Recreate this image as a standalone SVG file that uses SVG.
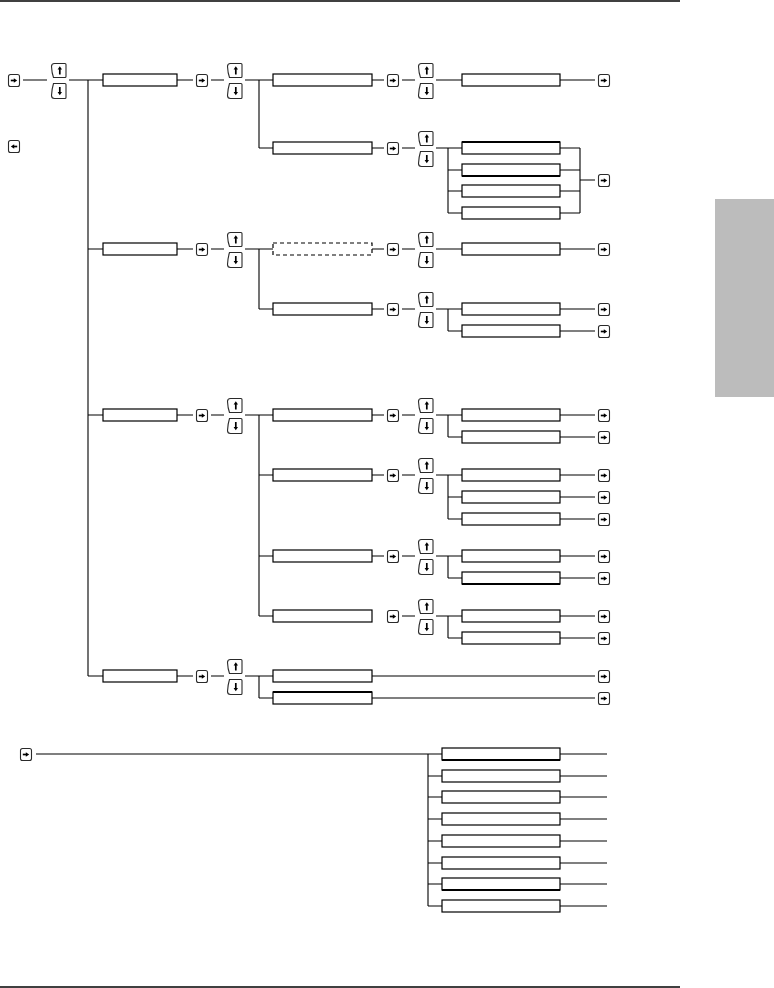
<svg xmlns="http://www.w3.org/2000/svg" xmlns:xlink="http://www.w3.org/1999/xlink" width="774" height="988" viewBox="0 0 774 988">
<style>
.box{fill:#fff;stroke:#000;stroke-width:1.2}
.dash{stroke-dasharray:4 3}
.ln{fill:none;stroke:#000;stroke-width:1.1}
.edge{stroke:#000;stroke-width:2.2}
.kf{fill:#fff;stroke:#2a2a2a;stroke-width:1.1}
.ka{stroke:#000;stroke-width:1.7;fill:none}
.kh{fill:#000}
</style>
<defs>
<g id="k-enter"><rect class="kf" x="0.5" y="0.5" width="11" height="12" rx="2"/><line class="ka" x1="2.8" y1="6.5" x2="6.5" y2="6.5"/><polygon class="kh" points="5.8,4.2 9.2,6.5 5.8,8.8"/></g>
<g id="k-back"><rect class="kf" x="0.5" y="0.5" width="11" height="12" rx="2"/><line class="ka" x1="5.5" y1="6.5" x2="9.2" y2="6.5"/><polygon class="kh" points="6.2,4.2 2.8,6.5 6.2,8.8"/></g>
<g id="k-up"><path class="kf" d="M2.5,14.5H14Q15,14.5 15,13.5V1.5Q15,0.5 14,0.5H3.5Q0.5,0.5 0.5,3.5Q0.8,10 2.5,14.5Z"/><line class="ka" x1="8.8" y1="11.5" x2="8.8" y2="6"/><polygon class="kh" points="6.6,6.6 8.8,3.3 11,6.6"/></g>
<g id="k-down"><path class="kf" d="M2.5,0.5H14Q15,0.5 15,1.5V14.5Q15,15.5 14,15.5H3.5Q0.5,15.5 0.5,12.5Q0.8,6 2.5,0.5Z"/><line class="ka" x1="8.8" y1="4" x2="8.8" y2="9.5"/><polygon class="kh" points="6.6,9 8.8,12.3 11,9"/></g>
</defs>
<rect width="774" height="988" fill="#fff"/>
<line x1="0" y1="1" x2="680" y2="1" stroke="#000" stroke-width="1.6"/>
<line x1="0" y1="987" x2="680" y2="987" stroke="#000" stroke-width="1.6"/>
<rect x="715" y="199" width="59" height="198" fill="#bcbcbc"/>

<g id="connectors" class="ln">
<path d="M23,80H47M69,80H88M88,80V676M88,80H103M88,249H103M88,415H103M88,676H103"/>
<path d="M177,80H193M211,80H224M245,80H259M177,249H193M211,249H224M245,249H259M177,415H193M211,415H224M245,415H259M177,676H193M211,676H224M245,676H259"/>
<path d="M259,80V148M259,249V309M259,415V616M259,676V698"/>
<path d="M259,80H273M259,148H273M259,249H273M259,309H273M259,415H273M259,475H273M259,556H273M259,616H273M259,676H273M259,698H273"/>
<path d="M372,80H384M372,148H384M372,249H384M372,309H384M372,415H384M372,475H384M372,556H384"/>
<path d="M402,80H415M402,148H415M402,249H415M402,309H415M402,415H415M402,475H415M402,556H415M402,616H415"/>
<path d="M436,80H462M436,249H462M436,148H448M436,309H448M436,415H448M436,475H448M436,556H448M436,616H448"/>
<path d="M448,148V213M448,309V331M448,415V437M448,475V519M448,556V578M448,616V638"/>
<path d="M448,148H462M448,170H462M448,191H462M448,213H462M448,309H462M448,331H462M448,415H462M448,437H462M448,475H462M448,497H462M448,519H462M448,556H462M448,578H462M448,616H462M448,638H462"/>
<path d="M560,80H595M560,249H595M560,309H595M560,331H595M560,415H595M560,437H595M560,475H595M560,497H595M560,519H595M560,556H595M560,578H595M560,616H595M560,638H595"/>
<path d="M560,148H580M560,170H580M560,191H580M560,213H580M580,148V213M580,180H595"/>
<path d="M372,676H595M372,698H595"/>
<path d="M36,754H428M428,754V906M428,754H442M428,776H442M428,797H442M428,819H442M428,841H442M428,863H442M428,884H442M428,906H442"/>
<path d="M560,754H607M560,776H607M560,797H607M560,819H607M560,841H607M560,863H607M560,884H607M560,906H607"/>
</g>

<g id="key-enter-start"><use xlink:href="#k-enter" x="8" y="74"/></g>
<g id="key-back"><use xlink:href="#k-back" x="8" y="140"/></g>
<g id="nav-A"><use xlink:href="#k-up" x="51" y="63"/><use xlink:href="#k-down" x="51" y="83"/></g>

<g id="menu-1"><rect class="box" x="103" y="74" width="74" height="12"/></g>
<g id="menu-2"><rect class="box" x="103" y="243" width="74" height="12"/></g>
<g id="menu-3"><rect class="box" x="103" y="409" width="74" height="12"/></g>
<g id="menu-4"><rect class="box" x="103" y="670" width="74" height="12"/></g>

<g id="enter-B1"><use xlink:href="#k-enter" x="196" y="74"/></g>
<g id="enter-B2"><use xlink:href="#k-enter" x="196" y="243"/></g>
<g id="enter-B3"><use xlink:href="#k-enter" x="196" y="409"/></g>
<g id="enter-B4"><use xlink:href="#k-enter" x="196" y="670"/></g>
<g id="nav-B1"><use xlink:href="#k-up" x="227" y="63"/><use xlink:href="#k-down" x="227" y="83"/></g>
<g id="nav-B2"><use xlink:href="#k-up" x="227" y="232"/><use xlink:href="#k-down" x="227" y="252"/></g>
<g id="nav-B3"><use xlink:href="#k-up" x="227" y="398"/><use xlink:href="#k-down" x="227" y="418"/></g>
<g id="nav-B4"><use xlink:href="#k-up" x="227" y="659"/><use xlink:href="#k-down" x="227" y="679"/></g>

<g id="sub-1a"><rect class="box" x="273" y="74" width="99" height="12"/></g>
<g id="sub-1b"><rect class="box" x="273" y="142" width="99" height="12"/></g>
<g id="sub-2a"><rect class="box dash" x="273" y="243" width="99" height="12"/></g>
<g id="sub-2b"><rect class="box" x="273" y="303" width="99" height="12"/></g>
<g id="sub-3a"><rect class="box" x="273" y="409" width="99" height="12"/></g>
<g id="sub-3b"><rect class="box" x="273" y="469" width="99" height="12"/></g>
<g id="sub-3c"><rect class="box" x="273" y="550" width="99" height="12"/></g>
<g id="sub-3d"><rect class="box" x="273" y="610" width="99" height="12"/></g>
<g id="sub-4a"><rect class="box" x="273" y="670" width="99" height="12"/></g>
<g id="sub-4b"><rect class="box" x="273" y="692" width="99" height="12"/><line class="edge" x1="273" y1="692" x2="372" y2="692"/></g>

<g id="enter-C1"><use xlink:href="#k-enter" x="387" y="74"/></g>
<g id="enter-C2"><use xlink:href="#k-enter" x="387" y="142"/></g>
<g id="enter-C3"><use xlink:href="#k-enter" x="387" y="243"/></g>
<g id="enter-C4"><use xlink:href="#k-enter" x="387" y="303"/></g>
<g id="enter-C5"><use xlink:href="#k-enter" x="387" y="409"/></g>
<g id="enter-C6"><use xlink:href="#k-enter" x="387" y="469"/></g>
<g id="enter-C7"><use xlink:href="#k-enter" x="387" y="550"/></g>
<g id="enter-C8"><use xlink:href="#k-enter" x="387" y="610"/></g>
<g id="nav-C1"><use xlink:href="#k-up" x="418" y="63"/><use xlink:href="#k-down" x="418" y="83"/></g>
<g id="nav-C2"><use xlink:href="#k-up" x="418" y="131"/><use xlink:href="#k-down" x="418" y="151"/></g>
<g id="nav-C3"><use xlink:href="#k-up" x="418" y="232"/><use xlink:href="#k-down" x="418" y="252"/></g>
<g id="nav-C4"><use xlink:href="#k-up" x="418" y="292"/><use xlink:href="#k-down" x="418" y="312"/></g>
<g id="nav-C5"><use xlink:href="#k-up" x="418" y="398"/><use xlink:href="#k-down" x="418" y="418"/></g>
<g id="nav-C6"><use xlink:href="#k-up" x="418" y="458"/><use xlink:href="#k-down" x="418" y="478"/></g>
<g id="nav-C7"><use xlink:href="#k-up" x="418" y="539"/><use xlink:href="#k-down" x="418" y="559"/></g>
<g id="nav-C8"><use xlink:href="#k-up" x="418" y="599"/><use xlink:href="#k-down" x="418" y="619"/></g>

<g id="opt-80"><rect class="box" x="462" y="74" width="98" height="12"/></g>
<g id="opt-148"><rect class="box" x="462" y="142" width="98" height="12"/><line class="edge" x1="462" y1="142" x2="560" y2="142"/></g>
<g id="opt-170"><rect class="box" x="462" y="164" width="98" height="12"/><line class="edge" x1="462" y1="176" x2="560" y2="176"/></g>
<g id="opt-191"><rect class="box" x="462" y="185" width="98" height="12"/></g>
<g id="opt-213"><rect class="box" x="462" y="207" width="98" height="12"/></g>
<g id="opt-249"><rect class="box" x="462" y="243" width="98" height="12"/></g>
<g id="opt-309"><rect class="box" x="462" y="303" width="98" height="12"/></g>
<g id="opt-331"><rect class="box" x="462" y="325" width="98" height="12"/></g>
<g id="opt-415"><rect class="box" x="462" y="409" width="98" height="12"/></g>
<g id="opt-437"><rect class="box" x="462" y="431" width="98" height="12"/></g>
<g id="opt-475"><rect class="box" x="462" y="469" width="98" height="12"/></g>
<g id="opt-497"><rect class="box" x="462" y="491" width="98" height="12"/></g>
<g id="opt-519"><rect class="box" x="462" y="513" width="98" height="12"/></g>
<g id="opt-556"><rect class="box" x="462" y="550" width="98" height="12"/></g>
<g id="opt-578"><rect class="box" x="462" y="572" width="98" height="12"/><line class="edge" x1="462" y1="584" x2="560" y2="584"/></g>
<g id="opt-616"><rect class="box" x="462" y="610" width="98" height="12"/></g>
<g id="opt-638"><rect class="box" x="462" y="632" width="98" height="12"/></g>

<g id="enter-D80"><use xlink:href="#k-enter" x="598" y="74"/></g>
<g id="enter-D180"><use xlink:href="#k-enter" x="598" y="174"/></g>
<g id="enter-D249"><use xlink:href="#k-enter" x="598" y="243"/></g>
<g id="enter-D309"><use xlink:href="#k-enter" x="598" y="303"/></g>
<g id="enter-D331"><use xlink:href="#k-enter" x="598" y="325"/></g>
<g id="enter-D415"><use xlink:href="#k-enter" x="598" y="409"/></g>
<g id="enter-D437"><use xlink:href="#k-enter" x="598" y="431"/></g>
<g id="enter-D475"><use xlink:href="#k-enter" x="598" y="469"/></g>
<g id="enter-D497"><use xlink:href="#k-enter" x="598" y="491"/></g>
<g id="enter-D519"><use xlink:href="#k-enter" x="598" y="513"/></g>
<g id="enter-D556"><use xlink:href="#k-enter" x="598" y="550"/></g>
<g id="enter-D578"><use xlink:href="#k-enter" x="598" y="572"/></g>
<g id="enter-D616"><use xlink:href="#k-enter" x="598" y="610"/></g>
<g id="enter-D638"><use xlink:href="#k-enter" x="598" y="632"/></g>
<g id="enter-D676"><use xlink:href="#k-enter" x="598" y="670"/></g>
<g id="enter-D698"><use xlink:href="#k-enter" x="598" y="692"/></g>

<g id="key-enter-bottom"><use xlink:href="#k-enter" x="20" y="748"/></g>
<g id="list-1"><rect class="box" x="442" y="748" width="118" height="12"/><line class="edge" x1="442" y1="760" x2="560" y2="760"/></g>
<g id="list-2"><rect class="box" x="442" y="770" width="118" height="12"/></g>
<g id="list-3"><rect class="box" x="442" y="791" width="118" height="12"/></g>
<g id="list-4"><rect class="box" x="442" y="813" width="118" height="12"/></g>
<g id="list-5"><rect class="box" x="442" y="835" width="118" height="12"/></g>
<g id="list-6"><rect class="box" x="442" y="857" width="118" height="12"/></g>
<g id="list-7"><rect class="box" x="442" y="878" width="118" height="12"/><line class="edge" x1="442" y1="890" x2="560" y2="890"/></g>
<g id="list-8"><rect class="box" x="442" y="900" width="118" height="12"/></g>
</svg>
